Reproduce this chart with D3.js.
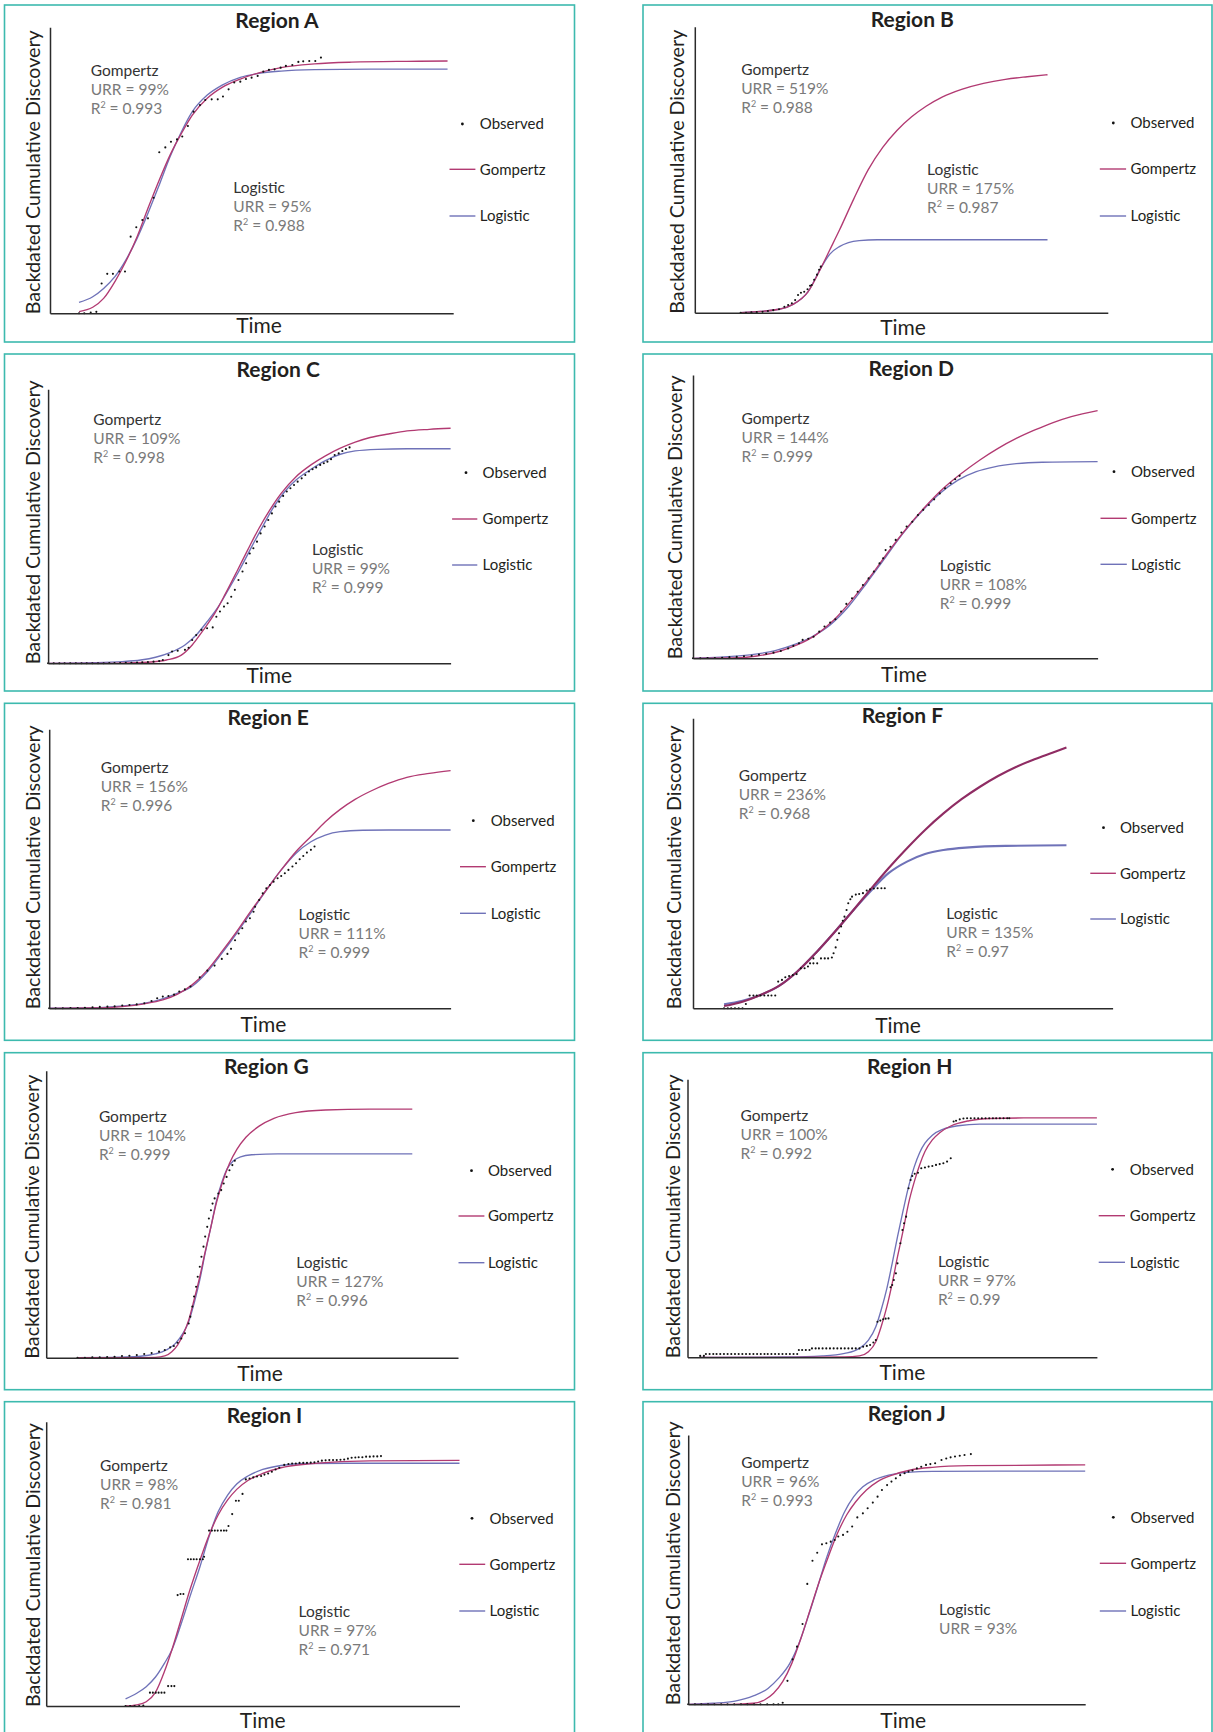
<!DOCTYPE html>
<html><head><meta charset="utf-8">
<script src="https://cdn.jsdelivr.net/npm/d3@7"></script>
<style>
html,body{margin:0;padding:0;background:#fff;}
svg{display:block;font-family:Lato,"Open Sans",sans-serif;}
</style></head>
<body>
<svg id="chart" width="1213" height="1732"></svg>
<script>
// ---------- DATA ----------
const regionNames = ["Region A","Region B","Region C","Region D","Region E","Region F","Region G","Region H","Region I","Region J"];
const gompertzURR = ["99%","519%","109%","144%","156%","236%","104%","100%","98%","96%"];
const gompertzR2  = ["0.993","0.988","0.998","0.999","0.996","0.968","0.999","0.992","0.981","0.993"];
const logisticURR = ["95%","175%","99%","108%","111%","135%","127%","97%","97%","93%"];
const logisticR2  = ["0.988","0.987","0.999","0.999","0.999","0.97","0.996","0.99","0.971",null];
const legendLabels = ["Observed","Gompertz","Logistic"];

// x = time (0-100 of axis), y = cumulative discovery (0-100 of axis)
const obsA = [[7.2,0],[8.5,0],[10.1,0.3],[11.5,0.5],[12.8,10.4],[14.2,13.8],[15.6,13.8],[17.2,14.6],[18.6,14.6],[20.0,26.8],[21.4,30.1],[22.9,32.6],[24.3,33.2],[25.7,40.4],[27.1,56.3],[28.6,58.0],[30.0,60.0],[31.5,60.8],[32.8,61.8],[34.2,65.5],[35.6,70.5],[37.2,72.8],[38.5,74.6],[40.1,74.8],[41.6,74.8],[42.9,75.8],[44.3,78.3],[45.7,80.7],[47.2,81.0],[48.6,81.9],[50.0,82.4],[51.5,83.0],[52.9,84.5],[54.3,85.1],[55.7,85.3],[57.2,85.9],[58.5,86.5],[60.1,86.8],[61.6,87.9],[62.8,88.1],[64.3,88.2],[65.8,88.2],[67.2,89.4]];
const gompA = [[7.2,0.6],[10.6,2.1],[13.3,5.2],[16.1,11.1],[18.8,18.1],[21.6,26.8],[24.3,36.7],[27.1,46.6],[29.8,55.4],[32.6,62.9],[35.3,69.3],[39.0,75.2],[42.7,79.0],[47.2,81.9],[51.8,84.1],[57.3,85.9],[65.6,87.2],[74.8,87.8],[88.5,88.1],[98.6,88.2]];
const logA = [[7.2,3.8],[10.6,5.8],[13.3,8.7],[16.1,12.8],[18.8,18.6],[21.6,26.2],[24.3,35.0],[27.1,44.9],[29.8,54.8],[32.6,63.5],[35.3,70.5],[39.0,76.3],[42.7,79.8],[47.2,82.5],[51.8,83.9],[57.3,84.7],[65.6,85.2],[79.4,85.4],[98.6,85.4]];

const obsB = [[11.1,0],[12.4,0],[13.7,0.1],[15.0,0.2],[16.4,0.3],[17.7,0.6],[19.0,0.9],[20.4,1.2],[21.7,2.1],[22.6,2.7],[23.5,3.3],[24.3,4.4],[25.0,6.2],[25.7,7.0],[26.5,7.3],[27.3,8.2],[27.9,9.4],[28.3,9.7],[28.9,11.5],[29.6,13.3],[30.1,15.0],[30.5,16.1]];
const gompB = [[11.1,0],[20.4,1.2],[23.9,3.0],[27.4,7.3],[30.7,16.1],[32.7,22.0],[35.0,28.8],[38.5,39.8],[42.0,50.0],[45.5,57.8],[49.0,63.8],[52.5,68.5],[56.0,72.2],[60.0,75.5],[64.6,78.1],[69.9,80.2],[75.2,81.6],[80.5,82.5],[85.4,83.2]];
const logB = [[11.1,0],[20.4,1.2],[23.9,3.0],[27.4,7.3],[30.7,16.1],[32.7,20.5],[35.0,23.1],[37.2,24.5],[39.8,25.2],[44.2,25.5],[57.5,25.5],[85.4,25.5]];

const obsC = [[0,0],[1.4,0],[2.8,0],[4.1,0],[5.5,0],[6.9,0],[8.3,0],[9.6,0],[11.0,0],[12.4,0],[13.8,0],[15.2,0.1],[16.5,0.1],[17.9,0.1],[19.3,0.2],[20.7,0.2],[22.1,0.3],[23.4,0.4],[24.8,0.5],[26.2,0.6],[27.6,0.8],[28.5,1.2],[29.9,3.0],[30.8,4.3],[32.2,4.6],[34.0,4.9],[34.9,5.7],[35.8,8.5],[36.8,10.3],[38.1,12.2],[39.5,12.8],[40.9,13.1],[41.8,17.0],[42.7,18.9],[43.7,20.7],[44.6,21.9],[45.5,24.3],[46.4,26.8],[47.3,30.4],[48.3,33.5],[49.2,36.5],[50.1,40.1],[51.0,42.0],[51.9,44.4],[52.8,47.4],[53.8,49.9],[54.7,52.3],[55.6,54.7],[56.5,57.2],[57.4,59.0],[58.4,61.1],[59.3,62.7],[60.2,63.9],[61.1,65.1],[62.0,66.3],[63.0,67.5],[63.9,68.7],[64.8,70.0],[65.7,70.8],[66.6,71.5],[67.6,72.4],[68.5,73.0],[69.4,73.6],[70.3,74.5],[71.2,76.0],[72.2,76.6],[73.1,77.5],[74.0,78.2],[74.9,78.8]];
const gompC = [[0,0],[15.6,0],[24.8,0.4],[29.4,1.2],[33.1,3.0],[35.8,6.7],[38.6,12.2],[41.4,18.2],[44.1,25.5],[46.9,33.5],[49.6,41.4],[52.4,49.3],[55.1,56.0],[57.9,62.0],[61.6,68.1],[65.3,72.4],[68.9,75.7],[72.6,78.5],[76.3,80.7],[80.0,82.4],[84.6,83.7],[89.2,84.8],[94.7,85.4],[100,85.8]];
const logC = [[0,0],[11.0,0.2],[18.4,0.6],[23.0,1.2],[26.7,2.2],[30.3,3.9],[34.0,6.7],[36.8,10.3],[39.5,15.2],[42.3,20.7],[45.0,27.4],[47.8,34.7],[50.6,42.6],[53.3,49.9],[56.1,57.2],[58.8,62.7],[61.6,66.9],[65.3,70.8],[68.9,74.0],[72.6,76.3],[76.3,77.5],[81.8,78.1],[89.2,78.3],[100,78.3]];

const obsD = [[0,0],[1.8,0],[3.6,0.1],[5.4,0.1],[7.2,0.2],[9.0,0.4],[10.8,0.5],[12.6,0.7],[14.5,0.9],[16.3,1.3],[18.1,1.6],[19.9,2.0],[21.7,2.6],[23.5,3.5],[24.8,4.4],[26.2,5.3],[27.1,6.5],[28.5,6.9],[29.8,7.6],[31.2,9.4],[32.5,11.2],[33.9,12.6],[35.2,13.8],[36.6,16.5],[37.9,19.2],[39.3,21.2],[40.7,23.5],[42.0,25.9],[43.4,28.2],[44.7,30.6],[46.1,33.5],[47.0,35.3],[47.6,38.2],[48.8,39.4],[50.1,41.8],[51.5,44.4],[52.8,46.5],[54.2,48.2],[55.6,50.6],[56.9,52.4],[58.3,54.1],[59.6,56.1],[61.0,58.2],[62.3,60.0],[63.7,61.8],[64.8,63.2],[65.9,64.4]];
const gompD = [[0,0],[9.5,0.1],[15.8,0.8],[21.2,2.4],[25.7,4.7],[30.3,8.2],[34.8,13.5],[39.3,20.6],[43.8,28.8],[48.3,37.6],[52.8,45.9],[57.4,53.5],[61.9,60.0],[66.4,65.3],[70.9,70.0],[75.4,74.1],[79.9,77.6],[84.5,80.6],[89.0,83.2],[93.5,85.3],[100,87.4]];
const logD = [[0,0],[6.8,0.4],[14.0,1.2],[20.3,2.7],[24.8,4.7],[29.4,7.6],[33.9,11.8],[38.4,18.2],[42.9,26.5],[47.4,35.3],[51.9,44.1],[56.5,51.8],[61.0,58.2],[65.5,62.9],[70.0,65.9],[74.5,67.6],[79.9,68.7],[86.3,69.2],[100,69.4]];

const obsE = [[0,0],[1.6,0],[3.4,0],[5.3,0.1],[7.1,0.1],[8.9,0.2],[10.8,0.4],[12.6,0.5],[14.5,0.6],[16.3,0.7],[18.2,1.0],[20.0,1.2],[21.8,1.4],[23.7,1.8],[25.5,2.6],[26.9,3.6],[28.3,4.2],[29.7,4.4],[31.1,4.9],[32.4,6.0],[33.8,6.8],[35.2,7.8],[37.5,11.1],[39.4,13.5],[41.2,15.3],[43.0,17.7],[44.4,19.5],[45.3,21.3],[46.3,24.4],[47.2,26.8],[48.1,28.7],[49.0,31.1],[50.0,32.3],[50.9,34.6],[51.3,36.4],[52.3,38.8],[53.2,41.2],[54.1,43.0],[55.0,44.2],[55.9,45.4],[56.9,46.6],[57.8,47.4],[58.7,48.4],[59.6,49.6],[60.6,50.8],[61.5,52.0],[62.4,53.4],[63.3,54.6],[64.2,55.8],[65.2,56.8],[66.1,58.0]];
const gompE = [[0,0],[10.8,0.1],[18.2,0.6],[23.7,1.6],[28.3,3.0],[32.0,5.1],[35.6,8.4],[39.4,13.7],[43.0,20.3],[46.7,27.5],[50.4,35.2],[54.1,42.4],[57.8,49.6],[61.5,56.2],[65.2,61.6],[68.8,66.9],[72.5,71.3],[76.2,74.9],[79.9,77.7],[84.5,80.6],[89.1,82.8],[94.7,84.2],[100,85.2]];
const logE = [[0,0],[8.9,0.1],[16.3,0.6],[22.8,1.6],[27.4,3.0],[32.0,5.4],[35.7,8.0],[39.4,13.1],[43.0,19.7],[46.7,26.9],[50.4,34.6],[54.1,42.4],[57.8,49.6],[61.5,55.6],[65.2,59.7],[68.8,62.1],[72.5,63.3],[78.1,63.8],[84.5,63.9],[100,63.9]];

const obsF = [[7.4,0],[8.3,0],[9.1,0],[10.0,0],[10.9,0],[11.8,0],[12.6,1.5],[13.5,4.4],[14.4,4.4],[15.2,4.4],[16.1,4.4],[17.0,4.4],[17.9,4.4],[18.7,4.4],[19.6,4.4],[20.3,9.2],[21.2,9.8],[22.0,10.7],[22.9,11.1],[23.8,11.5],[24.7,11.8],[25.7,13.8],[26.6,13.8],[27.4,14.4],[27.9,15.5],[28.7,15.5],[29.6,15.5],[28.7,17.2],[30.5,17.2],[31.4,17.2],[32.2,17.2],[33.1,17.5],[33.5,19.0],[34.0,21.0],[34.4,23.6],[34.8,25.9],[35.3,28.2],[35.7,30.2],[36.1,31.6],[36.6,33.9],[37.0,36.2],[37.5,37.6],[37.9,38.5],[38.8,39.2],[39.6,39.4],[40.5,39.7],[41.4,40.6],[42.2,41.0],[43.1,41.3],[44.0,41.4],[44.9,41.4],[45.7,41.4]];
const gompF = [[7.4,0.8],[11.8,2.3],[16.1,4.6],[20.5,7.7],[24.8,12.6],[29.2,19.0],[33.5,25.9],[37.9,33.3],[42.2,40.8],[46.6,48.3],[51.0,55.2],[55.3,61.5],[59.7,67.2],[64.0,72.1],[68.4,76.4],[72.7,80.1],[77.1,83.3],[81.4,85.9],[85.8,88.2],[89.0,89.9]];
const logF = [[7.4,1.4],[11.8,2.6],[16.1,4.6],[20.5,7.7],[24.8,12.6],[29.2,19.0],[33.5,25.9],[37.9,33.3],[42.2,40.2],[46.6,46.6],[51.0,50.6],[55.3,53.2],[59.7,54.6],[65.8,55.5],[74.5,56.0],[89.0,56.2]];

const obsG = [[7.6,0],[9.4,0],[11.2,0.1],[13.0,0.1],[14.8,0.2],[16.6,0.3],[18.4,0.6],[20.2,0.7],[22.0,0.9],[23.8,1.3],[25.6,1.6],[27.4,2.1],[28.8,2.7],[30.1,3.6],[31.0,4.1],[31.9,5.2],[32.8,6.7],[33.7,8.5],[34.6,11.9],[35.0,14.3],[35.5,17.8],[35.9,21.3],[36.4,24.7],[36.8,28.2],[37.3,31.7],[37.7,35.2],[38.2,38.7],[38.6,42.2],[39.1,45.6],[39.5,48.5],[40.0,51.4],[40.4,53.7],[40.9,55.5],[41.8,57.2],[42.5,58.4],[43.1,60.7],[43.8,63.0],[44.5,65.3],[45.2,67.1],[45.8,68.6]];
const gompG = [[7.6,0],[20.2,0],[26.5,0.1],[28.8,0.6],[30.5,2.1],[31.9,4.4],[33.2,7.9],[34.6,13.1],[35.9,20.1],[37.3,28.2],[38.6,36.9],[40.0,45.6],[41.3,53.8],[42.7,60.7],[44.5,67.7],[46.3,72.6],[48.5,76.8],[51.7,80.7],[55.3,83.4],[60.6,85.4],[67.8,86.3],[78.6,86.6],[88.9,86.6]];
const logG = [[7.6,0],[15.7,0.1],[22.9,0.5],[26.5,1.3],[29.2,2.7],[31.4,5.0],[33.2,8.5],[34.6,12.5],[35.9,18.9],[37.3,27.1],[38.6,36.4],[40.0,45.6],[41.3,54.4],[42.7,61.3],[44.0,66.0],[45.4,68.5],[47.2,70.0],[49.9,70.7],[56.2,71.0],[88.9,71.0]];

const obsH = [[3.1,0.5],[4.0,0.5],[4.5,1.2],[5.4,1.2],[6.3,1.2],[7.1,1.2],[8.0,1.2],[8.9,1.2],[9.8,1.2],[10.7,1.2],[11.6,1.2],[12.5,1.2],[13.4,1.2],[14.3,1.2],[15.2,1.2],[16.1,1.2],[17.0,1.2],[17.9,1.2],[18.8,1.2],[19.6,1.2],[20.5,1.2],[21.4,1.2],[22.3,1.2],[23.2,1.2],[24.1,1.2],[25.0,1.2],[25.9,1.2],[26.8,1.2],[27.2,2.6],[28.0,2.6],[28.9,2.6],[29.8,2.6],[30.4,3.2],[31.3,3.2],[32.1,3.2],[33.0,3.2],[33.9,3.2],[34.8,3.2],[35.7,3.2],[36.6,3.2],[37.5,3.2],[38.4,3.2],[39.3,3.2],[40.2,3.2],[41.1,3.2],[42.0,3.2],[42.9,3.8],[43.8,4.1],[44.6,4.4],[45.4,5.3],[46.0,6.2],[46.4,12.8],[47.1,13.2],[47.8,13.7],[48.4,13.9],[49.1,14.0],[49.6,25.2],[50.0,26.0],[50.4,27.8],[50.9,30.2],[51.3,33.8],[52.0,41.0],[52.5,45.8],[52.9,48.2],[53.4,50.6],[54.0,60.8],[54.5,63.8],[54.9,65.2],[55.5,66.0],[56.3,66.4],[57.1,68.0],[58.0,68.3],[58.9,68.6],[59.8,68.8],[60.7,69.2],[61.6,69.5],[62.5,69.8],[63.4,70.4],[64.3,71.6],[65.0,84.8],[65.6,85.1],[66.5,85.6],[67.4,85.9],[68.3,86.0],[69.2,86.0],[70.1,86.0],[71.0,86.0],[71.9,86.0],[72.8,86.0],[73.7,86.0],[74.6,86.0],[75.4,86.0],[76.3,86.0],[77.2,86.0],[78.1,86.0],[78.6,86.0]];
const gompH = [[3.1,0],[24.1,0],[38.4,0.1],[42.0,0.5],[44.2,2.0],[46.0,5.6],[47.3,11.0],[48.7,18.2],[50.0,26.6],[51.3,36.2],[52.7,45.8],[54.0,55.4],[55.4,63.2],[56.7,69.2],[58.0,74.0],[59.8,78.2],[61.6,80.8],[64.3,83.2],[68.8,85.1],[74.1,85.9],[82.1,86.1],[100,86.1]];
const logH = [[3.1,0],[24.1,0.1],[33.0,0.5],[38.4,1.4],[42.0,3.2],[44.2,6.2],[46.0,11.0],[47.3,17.0],[48.7,24.8],[50.0,33.8],[51.3,43.4],[52.7,53.0],[54.0,61.4],[55.4,68.6],[56.7,73.6],[58.0,77.0],[59.8,79.9],[62.5,82.1],[66.1,83.3],[71.4,83.9],[100,83.9]];

const obsI = [[19.2,0],[20.3,0],[21.4,0],[22.5,0],[23.5,0.2],[25.1,4.7],[25.8,4.7],[26.5,4.7],[27.2,4.7],[27.9,4.7],[28.6,4.7],[29.5,7.0],[30.3,7.0],[31.0,7.0],[31.8,39.0],[32.5,39.4],[33.2,39.4],[34.3,51.6],[35.0,51.6],[35.7,51.6],[36.4,51.6],[37.2,51.6],[37.9,51.6],[38.2,52.5],[39.4,61.7],[40.1,61.7],[40.8,61.7],[41.5,61.7],[42.3,61.7],[43.0,61.7],[43.6,61.7],[44.1,63.3],[45.0,67.5],[45.9,72.2],[46.6,72.2],[47.5,74.6],[48.3,79.7],[49.2,80.0],[50.1,80.4],[51.0,80.7],[52.0,80.9],[52.8,81.4],[53.7,81.8],[54.6,82.4],[55.5,83.2],[56.4,83.8],[57.6,84.8],[58.6,85.1],[59.5,85.3],[60.4,85.3],[61.3,85.5],[62.2,85.5],[63.1,85.5],[64.0,85.6],[64.9,85.7],[65.8,86.0],[66.7,86.3],[67.6,86.4],[68.5,86.5],[69.4,86.5],[70.3,86.5],[71.2,86.6],[72.1,86.7],[73.0,87.0],[73.9,87.3],[74.8,87.4],[75.6,87.5],[76.5,87.5],[77.4,87.7],[78.3,87.7],[79.2,87.8],[80.1,87.8],[81.0,87.9]];
const gompI = [[19.2,0],[21.9,0.4],[24.2,1.5],[26.4,4.7],[28.6,12.1],[30.4,19.7],[32.7,30.8],[34.9,41.4],[37.2,51.3],[39.4,60.1],[41.6,67.2],[43.9,72.5],[46.1,76.2],[48.8,79.3],[52.4,81.8],[56.8,83.8],[63.1,85.1],[69.4,85.8],[78.3,86.2],[100,86.4]];
const logI = [[19.2,2.5],[21.9,4.5],[24.2,6.8],[26.4,10.1],[28.6,15.0],[30.4,19.7],[32.7,29.1],[34.9,39.0],[37.2,49.0],[39.4,59.6],[41.6,68.3],[43.9,74.2],[46.1,78.1],[48.8,80.9],[52.4,83.2],[56.8,84.6],[63.1,85.3],[78.3,85.4],[100,85.4]];

const obsJ = [[0,0],[1.7,0],[3.3,0],[5.0,0],[6.6,0],[8.3,0],[9.9,0],[11.6,0],[13.3,0],[14.9,0],[16.6,0],[18.2,0],[19.9,0],[21.5,0],[22.7,0],[23.8,0.6],[25.0,8.7],[26.3,16.7],[27.4,21.4],[28.8,29.8],[30.0,44.7],[31.3,53.3],[32.5,56.3],[33.7,59.4],[34.8,59.8],[35.9,60.4],[36.9,61.0],[37.8,62.3],[39.0,62.9],[40.1,64.1],[41.3,66.0],[42.6,69.4],[44.0,70.9],[45.2,72.8],[46.5,74.9],[47.7,77.1],[48.8,79.6],[50.1,81.4],[51.2,82.7],[52.3,83.9],[53.4,85.1],[54.5,85.8],[55.5,86.4],[56.5,86.8],[57.6,87.6],[58.7,88.2],[59.9,88.9],[61.0,89.2],[62.2,89.5],[63.8,90.7],[65.0,91.3],[66.1,91.7],[67.2,92.0],[68.4,92.3],[69.6,92.6],[71.2,92.9]];
const gompJ = [[0,0],[10.9,0],[16.4,0.4],[19.2,1.6],[21.5,4.1],[23.8,8.4],[26.1,15.2],[28.4,24.5],[30.7,35.0],[33.0,45.5],[35.3,54.8],[37.6,63.5],[39.9,70.3],[42.2,75.2],[44.9,79.6],[47.7,82.7],[51.4,85.1],[56.0,87.0],[61.5,88.0],[70.7,88.6],[100,88.9]];
const logJ = [[0,0],[6.3,0.4],[11.8,1.2],[16.4,3.1],[20.1,5.9],[22.8,9.7],[25.6,15.2],[27.9,22.6],[30.2,32.5],[32.5,43.1],[34.8,54.2],[37.1,63.5],[39.4,71.5],[41.7,77.1],[44.0,80.8],[46.8,83.3],[50.5,85.1],[55.1,86.1],[61.5,86.5],[100,86.6]];

const observedSeries = [obsA,obsB,obsC,obsD,obsE,obsF,obsG,obsH,obsI,obsJ];
const gompertzSeries = [gompA,gompB,gompC,gompD,gompE,gompF,gompG,gompH,gompI,gompJ];
const logisticSeries = [logA,logB,logC,logD,logE,logF,logG,logH,logI,logJ];

// ---------- LAYOUT (positions only) ----------
const leftBox = {x:4.5, w:570}, rightBox = {x:643, w:569};
const rowTops = [5, 354, 703.3, 1052.7, 1401.7];
const boxH = 337;
const layout = [
 {plot:[50,27.3,453.2,313.3], title:[277,28.3], time:[259,333.3], ylab:32.6, gA:[90.7,76], lA:[233.3,193.3], leg:[462.4,479.8,449.5,475.4,124,169.3,216]},
 {plot:[694.8,26.7,1107.8,312.7], title:[912.3,27.3], time:[903,335], ylab:676.5, gA:[741.2,75], lA:[927,175], leg:[1113.3,1130.5,1099.8,1126.1,123,169,216]},
 {plot:[48.1,389.3,450.6,663.3], title:[278.2,376.7], time:[269.3,683.3], ylab:33.3, gA:[93.3,425], lA:[311.9,555], leg:[466,482.6,452.1,477.3,472.7,519,565]},
 {plot:[693,375,1097.6,658.3], title:[911.2,376], time:[903.9,681.7], ylab:674.7, gA:[741.6,424], lA:[939.7,570.7], leg:[1114,1130.9,1100.5,1126.8,471.7,518.3,564.3]},
 {plot:[49.2,729.3,450.6,1008.3], title:[268.2,725], time:[263.4,1031.7], ylab:32.6, gA:[100.7,772.7], lA:[298.5,920], leg:[473.3,490.7,460,485.9,820.7,866.7,913.3]},
 {plot:[693,718.3,1112.6,1008.3], title:[902.4,722.7], time:[898,1033.3], ylab:673.6, gA:[738.7,781], lA:[946.3,919.3], leg:[1103.5,1119.9,1090.3,1115.9,827.7,873.3,919]},
 {plot:[46.2,1070.7,458,1357.7], title:[266.4,1074], time:[260,1381], ylab:31.5, gA:[98.9,1122], lA:[296.3,1268], leg:[471.5,488,458.5,484.4,1170.7,1216,1262.7]},
 {plot:[687.5,1079.3,1096.9,1357.3], title:[909.7,1074], time:[902.4,1380], ylab:672.9, gA:[740.5,1121], lA:[937.9,1267], leg:[1112.6,1129.8,1098.7,1125,1169.3,1215.7,1262.3]},
 {plot:[46.2,1421.7,459.5,1706], title:[264.5,1422.7], time:[262.7,1728.3], ylab:32.6, gA:[100,1471], lA:[298.5,1617], leg:[472,489.6,459.3,485.2,1518.3,1564.3,1611]},
 {plot:[688.2,1435,1085.2,1704.3], title:[906.8,1420.7], time:[903.2,1728.3], ylab:672.9, gA:[741.2,1468], lA:[939,1615], leg:[1113.3,1130.5,1099.8,1126.1,1517.3,1563.3,1611]}
];

const COL_G = "#b23a72", COL_L = "#6f72b8", COL_BORDER = "#3dbaae", COL_TEXT = "#231f20", COL_GRAY = "#7a7a7a";
const FS_ANN = 15.5, LH = 19;

const svg = d3.select("#chart");
svg.append("rect").attr("width",1213).attr("height",1732).attr("fill","#fff");

regionNames.forEach((name, i) => {
  const L = layout[i];
  const col = i % 2, row = Math.floor(i / 2);
  const bx = col === 0 ? leftBox : rightBox;
  const g = svg.append("g");
  g.append("rect").attr("x", bx.x).attr("y", rowTops[row]).attr("width", bx.w).attr("height", row === 4 ? 400 : boxH)
    .attr("fill","none").attr("stroke",COL_BORDER).attr("stroke-width",1.6);

  const [pl, pt, pr, pb] = L.plot;
  const x = d3.scaleLinear().domain([0,100]).range([pl, pr]);
  const y = d3.scaleLinear().domain([0,100]).range([pb, pt]);

  const thick = (i === 5) ? 2.1 : 1.35;
  const line = d3.line().x(d => x(d[0])).y(d => y(d[1])).curve(d3.curveMonotoneX);

  g.append("path").datum(logisticSeries[i]).attr("d", line).attr("fill","none")
    .attr("stroke", COL_L).attr("stroke-width", thick);
  g.append("path").datum(gompertzSeries[i]).attr("d", line).attr("fill","none")
    .attr("stroke", i === 5 ? "#8f2c63" : COL_G).attr("stroke-width", thick);

  g.selectAll("circle.obs").data(observedSeries[i]).enter().append("circle")
    .attr("class","obs").attr("cx", d => x(d[0])).attr("cy", d => y(d[1])).attr("r", 1.05).attr("fill","#111");

  // axes
  const xAxis = d3.axisBottom(x).tickValues([]).tickSizeOuter(0);
  const yAxis = d3.axisLeft(y).tickValues([]).tickSizeOuter(0);
  g.append("g").attr("transform", `translate(0,${pb})`).call(xAxis)
    .select(".domain").attr("stroke","#2b2b2b").attr("stroke-width",1.5);
  g.append("g").attr("transform", `translate(${pl},0)`).call(yAxis)
    .select(".domain").attr("stroke","#2b2b2b").attr("stroke-width",1.5);

  // title
  g.append("text").attr("x", L.title[0]).attr("y", L.title[1]).attr("text-anchor","middle")
    .attr("font-size",21).attr("font-weight",700).attr("fill",COL_TEXT).text(name);
  // axis titles
  g.append("text").attr("x", L.time[0]).attr("y", L.time[1]).attr("text-anchor","middle")
    .attr("font-size",21).attr("fill",COL_TEXT).text("Time");
  g.append("text").attr("transform", `translate(${L.ylab + 7},${pb + 1}) rotate(-90)`)
    .attr("text-anchor","start").attr("font-size",19.7).attr("fill",COL_TEXT)
    .text("Backdated Cumulative Discovery");

  // annotations
  function annot(pos, title, urr, r2) {
    const t = g.append("g").attr("font-size", FS_ANN);
    t.append("text").attr("x", pos[0]).attr("y", pos[1]).attr("fill", "#333").text(title);
    t.append("text").attr("x", pos[0]).attr("y", pos[1] + LH).attr("fill", COL_GRAY).text("URR = " + urr);
    if (r2 !== null) {
      const r = t.append("text").attr("x", pos[0]).attr("y", pos[1] + 2*LH).attr("fill", COL_GRAY);
      r.append("tspan").text("R");
      r.append("tspan").attr("font-size", 9).attr("dy", -6).text("2");
      r.append("tspan").attr("dy", 6).text(" = " + r2);
    }
  }
  annot(L.gA, "Gompertz", gompertzURR[i], gompertzR2[i]);
  annot(L.lA, "Logistic", logisticURR[i], logisticR2[i]);

  // legend
  const [dotX, textX, lx1, lx2, yO, yG, yL] = L.leg;
  const lg = g.append("g").attr("font-size", 15).attr("fill", COL_TEXT);
  lg.append("circle").attr("cx", dotX).attr("cy", yO).attr("r", 1.4).attr("fill","#111");
  lg.append("line").attr("x1", lx1).attr("x2", lx2).attr("y1", yG).attr("y2", yG).attr("stroke", COL_G).attr("stroke-width",1.4);
  lg.append("line").attr("x1", lx1).attr("x2", lx2).attr("y1", yL).attr("y2", yL).attr("stroke", COL_L).attr("stroke-width",1.4);
  [yO, yG, yL].forEach((yy, k) => {
    lg.append("text").attr("x", textX).attr("y", yy + 5.3).text(legendLabels[k]);
  });
});
</script>
</body></html>
